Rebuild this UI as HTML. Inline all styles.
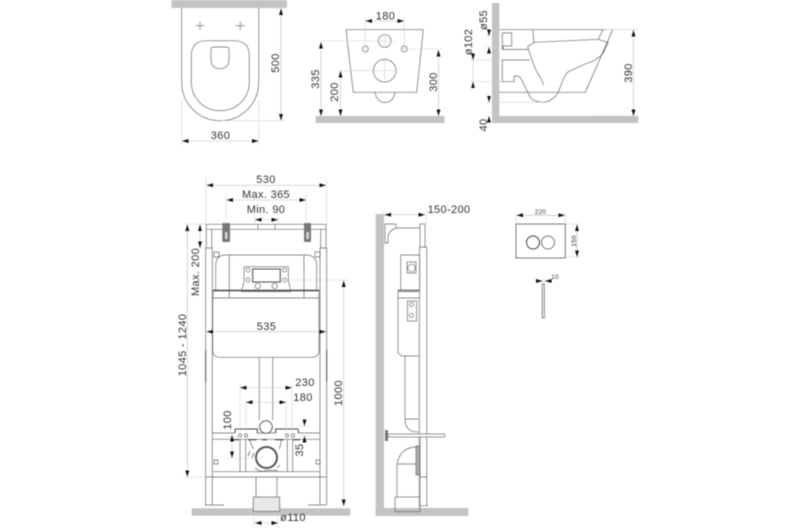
<!DOCTYPE html>
<html><head><meta charset="utf-8"><style>
html,body{margin:0;padding:0;background:#fff;width:810px;height:528px;overflow:hidden}
svg{display:block;filter:blur(.4px)}
text{font-family:"Liberation Sans",sans-serif;font-size:11px;fill:#333;text-anchor:middle;letter-spacing:.35px}
.l{fill:none;stroke:#666;stroke-width:.7}
.e{fill:none;stroke:#d0d0d0;stroke-width:.6}
.d{fill:none;stroke:#bbb;stroke-width:.6;marker-start:url(#a);marker-end:url(#a)}
.o{fill:none;stroke:#bbb;stroke-width:.6;marker-end:url(#a)}
.g{fill:#c3c3c3}
.s{font-size:6.500px;letter-spacing:.2px}
</style></head><body>
<svg width="810" height="528" viewBox="0 0 810 528" xmlns="http://www.w3.org/2000/svg">
<defs><marker id="a" markerUnits="userSpaceOnUse" markerWidth="7" markerHeight="5" refX="6.500" refY="2" orient="auto-start-reverse"><path d="M0 0V4L6.500 2Z" fill="#111"/></marker></defs>

<!-- top view -->
<rect class="g" x="171.500" y="0" width="115.500" height="8"/>
<path class="l" d="M181.700 8V82C181.700 104 199 120.700 220.200 120.700S258.700 104 258.700 82V8"/>
<path class="l" d="M191.300 56Q191.300 40.700 207 40.700H234Q249.300 40.700 249.300 56V82C249.300 98 237 110.700 220.300 110.700S191.300 98 191.300 82Z"/>
<path class="l" d="M211 50Q211 47 214 47H226Q229 47 229 50V59Q229 68.700 220 68.700T211 59Z"/>
<path d="M200 21.500V30M195.700 25.700H204.300M240.300 21.500V30M236 25.700H244.600" stroke="#aaa" stroke-width="1.300" fill="none"/>
<path class="e" d="M262 8H284M222 120.700H284M181.700 100V145M258.700 100V145"/>
<path class="d" d="M281 8.500V120.500"/><path class="d" d="M182 141H258.500"/>
<text transform="translate(279 63) rotate(-90)">500</text>
<text x="220.500" y="139">360</text>

<!-- front view -->
<rect class="g" x="315.700" y="116" width="128.700" height="7"/>
<path class="l" d="M346 29.700H423.300L416.700 92.300H353.300Z"/>
<path class="l" d="M375 92.300C376 99 380 102.500 385 102.500S394 99 395 92.300"/>
<circle class="l" cx="384.700" cy="41" r="6.300"/><circle class="l" cx="384.700" cy="70.700" r="11.300"/>
<circle class="l" cx="365.300" cy="49" r="3"/><circle class="l" cx="404.300" cy="49" r="3"/>
<path class="e" d="M321 41H394M339 70.700H396M403 49H442M365.300 18V52M404.300 18V52M384.700 34V48M384.700 57V82"/>
<path class="d" d="M365.500 21H404"/><path class="d" d="M321 42V116"/><path class="d" d="M340.500 71V116"/><path class="d" d="M438.500 50V116"/>
<text x="385.500" y="19.500">180</text>
<text transform="translate(319 79) rotate(-90)">335</text>
<text transform="translate(338 92) rotate(-90)">200</text>
<text transform="translate(437 82) rotate(-90)">300</text>

<!-- side view -->
<rect class="g" x="492" y="3" width="7.300" height="120"/><rect class="g" x="492" y="116" width="146.300" height="7"/>
<path class="l" d="M499.300 29.700H612.700L585.300 92.300H499.300"/>
<path class="l" d="M532.700 30L534 42.300L598.300 39.300L602.700 30M598.300 39.300L608.300 42.700M534 42.300L527.700 46.700C529 52 532 60 535 68C538 75 543 80 543.300 85"/>
<path class="l" d="M608.300 41.700L603.300 53.300C598 59 592 62 586.700 63.300L568.300 71.700C564 76 563 80 561.700 83.300C560 88 558.500 92 556.700 95C552 100 548 102.300 543.300 102.300C537 102.300 532 100 530 96.700L521.700 80Q520 76 517 76H514V81.700H502.300V60H530"/>
<path class="l" d="M502.300 33H511.700V46H503V49.500H528M502.300 33V49.500"/>
<path class="e" d="M486 36H500M486 47H500M470 60H502M470 81.700H502M486 102.300H543M605 29.700H638M586 116H638"/>
<path class="o" d="M489 29.500V36"/><path class="o" d="M489 53.500V47"/>
<path class="o" d="M473 53.500V60"/><path class="o" d="M473 88V81.700"/><path class="e" d="M473 60V82"/>
<path class="o" d="M489 96V102.300"/><path class="o" d="M489 122.500V116"/>
<path class="d" d="M633.500 30V116"/>
<text transform="translate(487 20) rotate(-90)">ø55</text>
<text transform="translate(472 42) rotate(-90)">ø102</text>
<text transform="translate(487 125) rotate(-90)">40</text>
<text transform="translate(632 73) rotate(-90)">390</text>

<!-- frame front -->
<rect class="g" x="191.700" y="508.300" width="158.600" height="7.400"/>
<path class="l" d="M206.300 224.300H326V229.300H206.300ZM206.300 224V248M211.700 229V248M320.700 229V248M326 224V248"/>
<path class="l" d="M205.700 248H212.300V505M205.700 248V505M320 248H326.700V505M320 248V505"/>
<path d="M205.700 350V382M326.700 350V382" stroke="#444" stroke-width=".9" fill="none"/>
<path class="l" d="M212 471.700H320M206 477H326M212 439.300H320M212 433H235M257 433H276M298 433H320"/>
<path class="l" d="M205 505H224M308.300 505H326"/>
<path class="l" d="M258 224.300V229.300M275 224.300V229.300"/>
<path class="l" d="M212.700 298H319M212.700 298V350Q212.700 357.300 220 357.300H312Q319 357.300 319 350V298M229.300 255V298M304 255V298"/>
<path d="M213 290.500H319" stroke="#444" stroke-width="1.500"/><path class="l" d="M213 290V298M319 290V298"/>
<path class="l" d="M215.700 290V266Q215.700 255 226 255H306Q316.700 255 316.700 266V290"/>
<rect x="222.300" y="223" width="7.700" height="19" rx="1" fill="#777"/><rect x="304" y="223" width="7" height="19" rx="1" fill="#777"/>
<rect x="225" y="232" width="2.400" height="7" fill="#ddd"/><rect x="306.400" y="232" width="2.400" height="7" fill="#ddd"/>
<path class="l" d="M244 266.700H288.300V281L291 291.700H241.500L244 281Z"/>
<rect x="252.700" y="269" width="27.600" height="13" fill="none" stroke="#555" stroke-width="1.100"/>
<circle class="l" cx="257.700" cy="286" r="2.700"/><circle class="l" cx="274.700" cy="286" r="2.700"/>
<circle class="l" cx="248" cy="270" r="2"/><circle class="l" cx="284.500" cy="270" r="2"/><circle class="l" cx="248" cy="280" r="2"/><circle class="l" cx="284.500" cy="280" r="2"/>
<path class="l" d="M214 252h5v5h-5zM315 252h5v5h-5zM214 460h4v4h-4zM316 460h4v4h-4z"/>
<path class="l" d="M259.300 357V420M272.700 357V420"/>
<circle cx="266" cy="427" r="6.300" fill="#fff" stroke="#555" stroke-width="1"/>
<path d="M235 433V430Q235 429 236 429H257.300V433M275.700 433V429H297Q298.300 429 298.300 430V433" fill="none" stroke="#444" stroke-width="1"/>
<path class="l" d="M240 439.300V471.700M245.700 439.300V471.700M287.300 439.300V471.700M292.700 439.300V471.700"/>
<circle class="l" cx="240" cy="435.500" r="1.600"/><circle class="l" cx="246" cy="435.500" r="1.600"/><circle class="l" cx="287" cy="435.500" r="1.600"/><circle class="l" cx="293" cy="435.500" r="1.600"/>
<path d="M232 439.700H239M247.700 439.700H256.700M262 439.700H267M275 439.700H284M293 439.700H300" stroke="#444" stroke-width="1.200"/>
<path d="M250 440C251 445 252 447 254 449M281 440C281 445 280 447 279 449M255 468Q260 473 266 470.500H278M277 468L280 465" fill="none" stroke="#666" stroke-width=".7"/>
<circle cx="266.500" cy="457.500" r="10.500" fill="#fff" stroke="#555" stroke-width="2"/>
<path d="M248 456L250 451M252 458L254 453" stroke="#444" stroke-width=".7"/>
<path class="l" d="M256 477V497M277 477V497"/>
<rect x="253.300" y="497" width="26.400" height="14.300" fill="#e8e8e8" stroke="#666" stroke-width=".7"/>

<path class="e" d="M206 178V224M326.500 178V224M226 194V224M306 194V224M255 215V224M278 215V224M183 224H206M194 248H206M183 477H206M289 280H348M254 516V528M278 516V528M240 385V432M292 385V432M246 400V432M286 400V432M226 437H240M226 458H262M298 426H310M298 436H310"/>
<path class="d" d="M206.500 185.300H326"/><path class="d" d="M226.500 200H306"/>
<path class="e" d="M262 219.700H271"/><path class="o" d="M262 219.700H255"/><path class="o" d="M271 219.700H278"/>
<path class="d" d="M187.300 224.500V477"/><path class="d" d="M200 224.500V248"/><path class="d" d="M206.500 331.700H326"/>
<path class="d" d="M343.700 280.500V506"/>
<path class="o" d="M248 387.700H240"/><path class="o" d="M284 387.700H292"/><path class="e" d="M248 387.700H284"/>
<path class="o" d="M253 402.300H246"/><path class="o" d="M279 402.300H286"/><path class="e" d="M253 402.300H279"/>
<path class="d" d="M232 435V458"/>
<path class="o" d="M304.500 419.500V426"/><path class="o" d="M304.500 442.500V436"/>
<path class="o" d="M262 523H255"/><path class="o" d="M271 523H278"/><path class="e" d="M262 523H271"/>
<text x="266" y="183">530</text><text x="266" y="198">Max. 365</text><text x="266" y="213">Min. 90</text>
<text x="266.500" y="330">535</text>
<text transform="translate(199 272) rotate(-90)">Max. 200</text>
<text transform="translate(186 345) rotate(-90)">1045 - 1240</text>
<text transform="translate(342 393) rotate(-90)">1000</text>
<text x="305" y="386">230</text><text x="303" y="401">180</text>
<text transform="translate(231 420) rotate(-90)">100</text>
<text transform="translate(303 450) rotate(-90)">35</text>
<text x="293" y="521">ø110</text>

<!-- frame side -->
<rect class="g" x="375.700" y="214" width="8.300" height="302"/><rect class="g" x="375.700" y="508" width="92.600" height="8"/>
<path class="e" d="M384 210V224M426 210V224"/>
<path class="d" d="M384.500 214.700H425"/>
<text x="449" y="213">150-200</text>
<path class="l" d="M385 224H396V228H420M385 224V243H388V238Q388 231 396 228"/>
<path class="l" d="M420 224H425V247M420 247V224M419.700 247H426.700V505.700M419.700 247V505.700"/>
<path class="l" d="M400.700 255H419.700V290H398V298H419.700M400.700 255V290"/>
<rect x="398" y="289.500" width="22" height="2.500" fill="#888"/>
<rect class="l" x="407" y="262" width="9" height="11"/><circle class="l" cx="411.500" cy="268" r="3.800"/>
<path class="l" d="M398 298V353L402 356H419.700M405 356V419Q405 432 418 432M405 419H419"/>
<rect class="l" x="407.500" y="301" width="9" height="20"/><circle class="l" cx="411.500" cy="304.500" r="2"/><circle class="l" cx="411.500" cy="315.500" r="2"/>
<rect class="g" x="418" y="298" width="2" height="210" style="opacity:.6"/>
<path class="l" d="M416 447C405 447 397 455 397 467V497M397 464H418M420 437V497"/>
<rect x="388" y="434" width="56.700" height="3" fill="#fff" stroke="#666" stroke-width=".7"/>
<rect x="385" y="430" width="3" height="11" fill="#777"/>
<rect x="416" y="446" width="4" height="29" fill="#aaa" stroke="#555" stroke-width=".6"/>
<rect class="l" x="395" y="497" width="25" height="14.700"/>
<path class="l" d="M419 505.700H428M426.700 477H420"/>

<!-- panel -->
<rect x="516" y="224" width="49.300" height="34" fill="none" stroke="#555" stroke-width=".8"/>
<circle cx="533" cy="242.500" r="6.500" fill="none" stroke="#444" stroke-width="1"/><circle cx="548" cy="242.500" r="6.500" fill="none" stroke="#555" stroke-width=".8"/>
<path class="e" d="M516 213V224M565 213V224M566 224H580M566 257H580M543 279V284M545 279V284"/>
<path class="d" d="M516.500 215.300H565"/><path class="d" d="M577 224.500V257"/>
<path class="o" d="M536 281H542.500"/><path class="o" d="M552 281H545"/>
<rect x="542" y="284" width="2.500" height="34" fill="#ddd" stroke="#666" stroke-width=".6"/>
<text x="540.500" y="214" class="s">220</text>
<text transform="translate(576 241) rotate(-90)" class="s">150</text>
<text x="555" y="279" class="s">10</text>
</svg>
</body></html>
